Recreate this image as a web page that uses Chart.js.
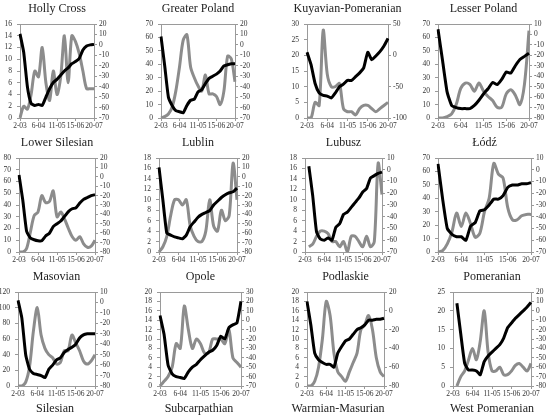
<!DOCTYPE html>
<html>
<head>
<meta charset="utf-8">
<script src="https://cdn.jsdelivr.net/npm/chart.js@4.4.0/dist/chart.umd.min.js"></script>
<style>
    body { margin: 0; background: #fff; }
    #wrap { position: relative; width: 550px; height: 418px; overflow: hidden; }
    .panel { position: absolute; }
    .name { position: absolute; width: 140px; text-align: center; white-space: nowrap;
        font-family: "Liberation Serif", serif; font-size: 12px; color: #222; }
</style>
</head>
<body>
<div id="wrap"></div>
<script>
"use strict"

const weeks = ["2-03", "9-03", "16-03", "23-03", "30-03", "6-04", "13-04", "20-04", "27-04", "4-05", "11-05",
    "18-05", "25-05", "1-06", "8-06", "15-06", "22-06", "29-06", "6-07", "13-07", "20-07"]
const shownWeeks = ["2-03", "6-04", "11-05", "15-06", "20-07"]

const regions = ["Holly Cross", "Greater Poland", "Kuyavian-Pomeranian", "Lesser Poland",
    "Lower Silesian", "Lublin", "Lubusz", "Łódź",
    "Masovian", "Opole", "Podlaskie", "Pomeranian"]
const lastRow = ["Silesian", "Subcarpathian", "Warmian-Masurian", "West Pomeranian"]

// grey line, left axis
const casesHollyCross = [0, 2, 1.5, 4, 8, 7, 12, 6, 3, 8, 4, 7, 14, 6, 14, 13, 11, 8, 5, 5, 5]
const casesGreaterPoland = [0, 1, 3, 8, 20, 38, 58, 62, 38, 30, 24, 20, 32, 18, 18, 16, 10, 20, 46, 44, 27]
const casesKuyavian = [0, 0, 5, 4, 28, 14, 10, 10, 11, 3, 2, 2, 1, 3, 4, 4, 3, 2, 3, 4, 5]
const casesLesserPoland = [0, 0, 1, 3, 10, 22, 26, 25, 20, 26, 20, 16, 13, 8, 8, 18, 21, 17, 10, 25, 65]
const casesLowerSilesian = [0, 0, 3, 17, 31, 34, 48, 42, 43, 52, 30, 34, 28, 20, 13, 10, 13, 7, 4, 5, 10]
const casesLublin = [0, 1, 3, 7, 10, 10, 9, 10, 5, 3, 2, 2, 4, 10, 5, 4, 8, 6, 7, 17, 10]
const casesLubusz = [null, 1, 1.5, 3, 4, 4, 3.5, 2, 2, 1, 2, 0, 3, 3, 2, 1, 3, 1, 2, 17, 11]
const casesLodz = [0, 1, 6, 15, 29, 19, 29, 21, 11, 14, 30, 40, 66, 58, 55, 33, 24, 24, 27, 28, 28]
const casesMasovian = [0, 0, 5, 25, 70, 100, 65, 48, 40, 36, 28, 30, 45, 45, 65, 55, 45, 32, 28, 32, 40]
const casesOpole = [0, 1, 2, 4, 9, 8, 17, 12, 8, 10, 9, 7, 7, 10, 10, 10, 9, 12, 6, 5, 4]
const casesPodlaskie = [0, 0, 1, 4, 10, 18, 15, 7, 3, 2, 1, 3, 5, 7, 12, 13, 15, 12, 6, 3, 2]
const casesPomeranian = [null, 0, 2.5, 4, 7, 10, 7, 12, 20, 9, 4, 4, 5, 3, 3, 4, 5.5, 6, 5, 4, 6]

// black line, right axis
const mobHollyCross = [10.5, -7, -40, -56, -58, -57, -58, -50, -42, -36, -33, -29, -25, -22, -18, -16, -13, -5, -1, 0, 0.5]
const mobGreaterPoland = [8, -20, -50, -58, -63, -64, -65, -58, -53, -52, -45, -43, -37, -32, -30, -28, -25, -20, -19, -18, -18]
const mobKuyavian = [5, -15, -45, -60, -64, -65, -68, -60, -50, -46, -40, -40, -34, -28, -20, 5, -7, -1, 6, 15, 27]
const mobLesserPoland = [5, -25, -55, -68, -70, -71, -71, -71, -68, -63, -57, -52, -46, -48, -43, -36, -37, -30, -24, -21, -18]
const mobLowerSilesian = [2, -25, -58, -65, -67, -68, -68, -63, -60, -53, -50, -47, -42, -37, -34, -33, -28, -24, -22, -20, -19]
const mobLublin = [10, -25, -60, -62, -64, -65, -66, -62, -53, -48, -43, -40, -38, -36, -30, -26, -22, -19, -17, -16, -12]
const mobLubusz = [null, 3, -22, -53, -59, -60, -58, -60, -49, -46, -38, -36, -32, -28, -24, -19, -16, -7, -5, -3, -2]
const mobLodz = [5, -25, -50, -55, -57, -57, -60, -48, -45, -35, -34, -30, -25, -25, -22, -15, -13, -13, -12, -12, -11]
const mobMasovian = [2, -15, -50, -64, -68, -69, -70, -72, -64, -60, -55, -53, -48, -45, -43, -40, -34, -31, -30, -30, -30]
const mobOpole = [5, -15, -48, -57, -60, -61, -62, -55, -50, -47, -42, -38, -34, -32, -27, -17, -20, -8, -5, -3, 20]
const mobPodlaskie = [10, -15, -45, -52, -55, -57, -57, -60, -45, -38, -32, -30, -25, -20, -18, -15, -10, -10, -9, -9, -8]
const mobPomeranian = [null, 8, -25, -56, -63, -63, -64, -68, -54, -48, -44, -40, -36, -29, -18, -13, -8, -4, 0, 4, 9]

const leftMax = [16, 70, 30, 70, 80, 18, 18, 70, 120, 20, 20, 25]
const leftStep = [2, 10, 5, 10, 10, 2, 2, 10, 20, 2, 2, 5]
const rightMin = [-70, -70, -100, -80, -80, -80, -70, -70, -80, -70, -80, -80]
const rightMax = [20, 20, 50, 10, 20, 20, 10, 10, 10, 30, 20, 20]
const rightStep = [10, 10, 50, 10, 10, 10, 10, 10, 10, 10, 20, 10]

const casesList = [casesHollyCross, casesGreaterPoland, casesKuyavian, casesLesserPoland,
    casesLowerSilesian, casesLublin, casesLubusz, casesLodz,
    casesMasovian, casesOpole, casesPodlaskie, casesPomeranian]
const mobList = [mobHollyCross, mobGreaterPoland, mobKuyavian, mobLesserPoland,
    mobLowerSilesian, mobLublin, mobLubusz, mobLodz,
    mobMasovian, mobOpole, mobPodlaskie, mobPomeranian]

// page layout: canvas slots and where each plot box sits on the page
const colLeft = [0, 137, 275, 412]
const rowTop = [0, 134, 268]
const panelW = 138
const plotLeft = [20, 161, 307, 438, 19, 159, 305, 438, 18, 160, 307, 453]
const plotRight = [94, 235, 388, 529, 95, 237, 382, 531, 95, 241, 384, 531]
const lastRowCenter = [55, 199, 338, 492]

const serif = "'Liberation Serif', 'DejaVu Serif', serif"
const axisGrey = '#9a9a9a'
const tickFont = { family: serif, size: 7.5 }

// Excel style frame: top edge of the plot area
const frame = {
    id: 'frame',
    afterDatasetsDraw(chart) {
        const a = chart.chartArea
        const c = chart.ctx
        c.save()
        c.strokeStyle = axisGrey
        c.lineWidth = 1
        c.beginPath()
        c.moveTo(a.left, a.top + 0.5)
        c.lineTo(a.right, a.top + 0.5)
        c.stroke()
        c.restore()
    }
}

function addName(text, center, top) {
    let label = document.createElement('div')
    label.className = 'name'
    label.textContent = text
    label.style.left = (center - 70) + 'px'
    label.style.top = top + 'px'
    document.getElementById('wrap').appendChild(label)
}

function drawPanel(i) {
    let col = i % 4
    let row = Math.floor(i / 4)
    let leftW = plotLeft[i] - colLeft[col]
    let rightW = colLeft[col] + panelW - plotRight[i]

    let canvas = document.createElement('canvas')
    canvas.className = 'panel'
    canvas.style.left = colLeft[col] + 'px'
    canvas.style.top = rowTop[row] + 'px'
    document.getElementById('wrap').appendChild(canvas)

    var ctx = canvas.getContext('2d')
        ctx.canvas.width = panelW;
        ctx.canvas.height = 134;

    var chart = new Chart(ctx, {
        type: 'line',
        data: {
            labels: weeks,
            datasets: [{
                data: mobList[i],
                yAxisID: 'right',
                borderColor: '#000',
                borderWidth: 3,
                tension: 0.15,
                pointRadius: 0,
                order: 0
            }, {
                data: casesList[i],
                yAxisID: 'left',
                borderColor: '#8c8c8c',
                borderWidth: 3,
                tension: 0.3,
                pointRadius: 0,
                order: 1
            }]
        },
        options: {
            responsive: false,
            animation: false,
            events: [],
            layout: {
                padding: { left: 0, right: 0, top: 24, bottom: 2 }
            },
            plugins: {
                legend: { display: false },
                tooltip: { enabled: false }
            },
            scales: {
                x: {
                    ticks: {
                        autoSkip: false,
                        maxRotation: 0,
                        padding: 1,
                        color: '#333',
                        font: tickFont,
                        callback: function (v, idx) {
                            return shownWeeks.includes(weeks[idx]) ? weeks[idx] : ''
                        }
                    },
                    grid: {
                        drawOnChartArea: false,
                        tickLength: 3,
                        color: function (c) {
                            return shownWeeks.includes(weeks[c.index]) ? axisGrey : 'rgba(0,0,0,0)'
                        }
                    },
                    border: { color: axisGrey },
                    afterFit: function (s) { s.height = 14 }
                },
                left: {
                    position: 'left',
                    min: 0,
                    max: leftMax[i],
                    ticks: {
                        stepSize: leftStep[i],
                        autoSkip: false,
                        padding: 5,
                        color: '#333',
                        font: tickFont
                    },
                    grid: { drawOnChartArea: false, tickLength: 3, color: axisGrey },
                    border: { color: axisGrey },
                    afterFit: function (s) { s.width = leftW }
                },
                right: {
                    position: 'right',
                    min: rightMin[i],
                    max: rightMax[i],
                    ticks: {
                        stepSize: rightStep[i],
                        autoSkip: false,
                        padding: 2,
                        color: '#333',
                        font: tickFont
                    },
                    grid: { drawOnChartArea: false, tickLength: 3, color: axisGrey },
                    border: { color: axisGrey },
                    afterFit: function (s) { s.width = rightW }
                }
            }
        },
        plugins: [frame]
    })

    let area = chart.chartArea
    addName(regions[i], colLeft[col] + (area.left + area.right) / 2, rowTop[row] + 1)
}

for (let i = 0; i < regions.length; i++) {
    drawPanel(i)
}

for (let j = 0; j < lastRow.length; j++) {
    addName(lastRow[j], lastRowCenter[j], 401)
}
</script>
</body>
</html>
